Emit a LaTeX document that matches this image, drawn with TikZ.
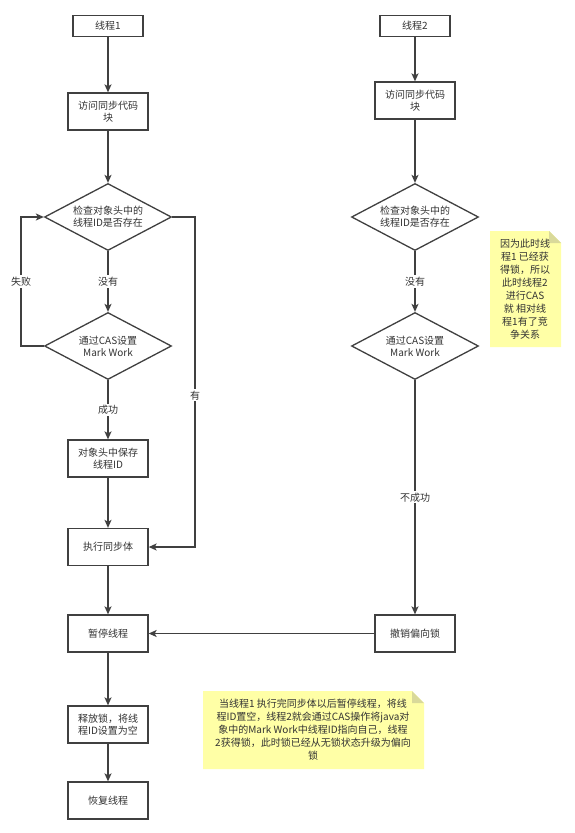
\documentclass[tikz,border=0pt]{standalone}
\usepackage{fontspec}
\setmainfont{Noto Sans CJK SC}
\usetikzlibrary{shapes.geometric,arrows.meta}
\definecolor{ln}{HTML}{404040}
\definecolor{tx}{HTML}{333333}
\definecolor{notefill}{HTML}{FFFFA6}
\definecolor{notefold}{HTML}{D9D99A}
\begin{document}
\begin{tikzpicture}[x=1pt,y=-1pt,
  every node/.style={text=tx,font=\fontsize{10}{12}\selectfont},
  box/.style={draw=ln,line width=1.3pt,minimum width=80pt,minimum height=37pt,align=center,inner sep=1pt},
  tbox/.style={box,minimum width=70pt,minimum height=21pt},
  dia/.style={draw=ln,line width=1.3pt,shape=diamond,aspect=1.87,minimum width=127pt,minimum height=67pt,align=center,inner sep=0pt},
  arr/.style={draw=ln,line width=1.3pt,-{Stealth[length=8pt,width=7pt,inset=2pt]}},
  lbl/.style={fill=white,inner sep=1.5pt},
  notetxt/.style={align=center,font=\fontsize{10}{13}\selectfont}
  ]
\useasboundingbox (0,0) rectangle (575,833);
\fill[white] (0,0) rectangle (575,833);

% left column
\node[tbox] (t1) at (108,26) {线程1};
\node[box] (a1) at (108,111.5) {访问同步代码\\块};
\node[dia] (d1) at (108,217) {检查对象头中的\\线程ID是否存在};
\node[dia] (d2) at (108,346) {通过CAS设置\\Mark Work};
\node[box] (s1) at (108,458.5) {对象头中保存\\线程ID};
\node[box] (e1) at (108,547) {执行同步体};
\node[box] (p1) at (108,633.5) {暂停线程};
\node[box] (r1) at (108,724.5) {释放锁，将线\\程ID设置为空};
\node[box] (h1) at (108,800.5) {恢复线程};

% right column
\node[tbox] (t2) at (415,26) {线程2};
\node[box] (a2) at (415,100.5) {访问同步代码\\块};
\node[dia] (d3) at (415,217) {检查对象头中的\\线程ID是否存在};
\node[dia] (d4) at (415,346) {通过CAS设置\\Mark Work};
\node[box] (c2) at (415,633.5) {撤销偏向锁};

% bend points
\coordinate (fb1) at (21,346);
\coordinate (fb2) at (21,217);
\coordinate (yb1) at (195,217);
\coordinate (yb2) at (195,547);

% connectors
\draw[arr] (t1) -- (a1);
\draw[arr] (a1) -- (d1);
\draw[arr] (d1) -- node[lbl]{没有} (d2);
\draw[arr] (d2.west) -- (fb1) -- node[lbl]{失败} (fb2) -- (d1.west);
\draw[arr] (d2) -- node[lbl]{成功} (s1);
\draw[arr] (s1) -- (e1);
\draw[arr] (d1.east) -- (yb1) -- node[lbl,pos=0.54]{有} (yb2) -- (e1.east);
\draw[arr] (e1) -- (p1);
\draw[arr] (p1) -- (r1);
\draw[arr] (r1) -- (h1);

\draw[arr] (t2) -- (a2);
\draw[arr] (a2) -- (d3);
\draw[arr] (d3) -- node[lbl]{没有} (d4);
\draw[arr] (d4) -- node[lbl]{不成功} (c2);
\draw[arr] (c2) -- (p1);

% note 1
\fill[notefill] (490,231) -- (549,231) -- (561,243) -- (561,347) -- (490,347) -- cycle;
\fill[notefold] (549,231) -- (561,243) -- (549,243) -- cycle;
\node[notetxt] (n1) at (525,289) {因为此时线\\程1 已经获\\得锁，所以\\此时线程2\\进行CAS\\就 相对线\\程1有了竞\\争关系};

% note 2
\fill[notefill] (203,691) -- (412,691) -- (424,703) -- (424,769) -- (203,769) -- cycle;
\fill[notefold] (412,691) -- (424,703) -- (412,703) -- cycle;
\node[notetxt] (n2) at (313,730) {当线程1 执行完同步体以后暂停线程，将线\\程ID置空，线程2就会通过CAS操作将java对\\象中的Mark Work中线程ID指向自己，线程\\2获得锁，此时锁已经从无锁状态升级为偏向\\锁};
\end{tikzpicture}
\end{document}
